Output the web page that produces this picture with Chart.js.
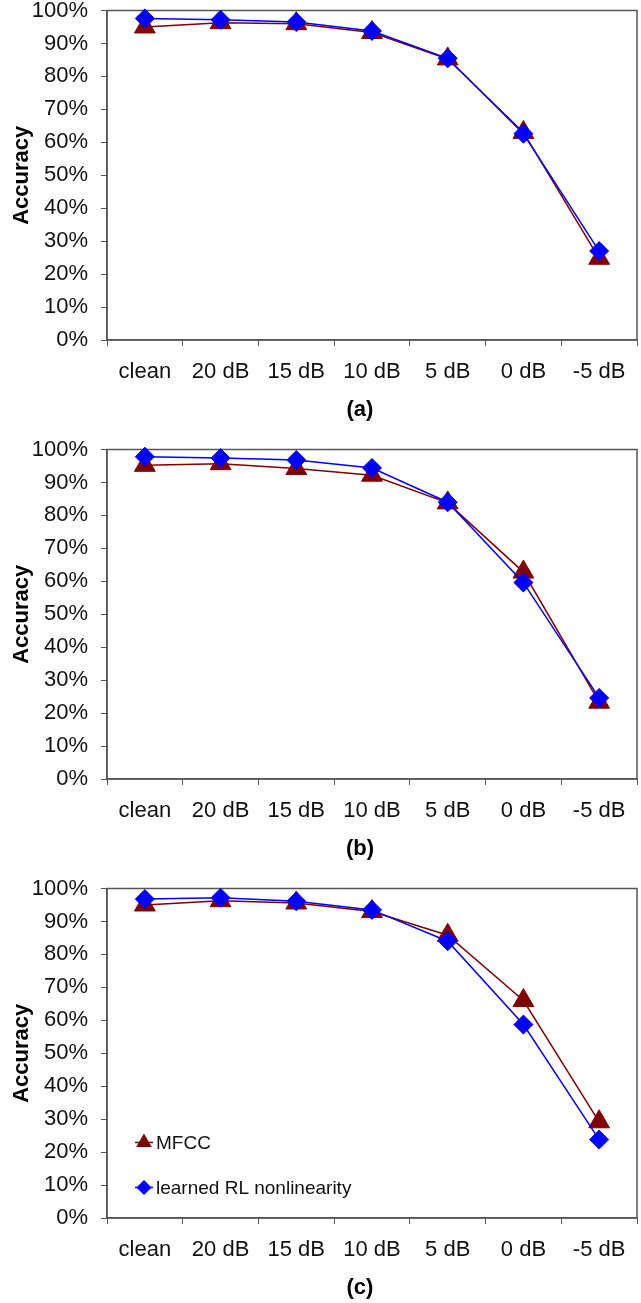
<!DOCTYPE html>
<html>
<head>
<meta charset="utf-8">
<script src="https://cdn.jsdelivr.net/npm/chart.js@4.4.0/dist/chart.umd.min.js"></script>
<style>
body { margin: 0; background: #fff; width: 641px; height: 1303px; overflow: hidden; position: relative; font-family: "Liberation Sans", Arial, sans-serif; }
.panel { position: absolute; left: 0; width: 641px; height: 439px; }
.caption { position: absolute; left: 310px; width: 100px; top: 396px; text-align: center; font-weight: bold; font-size: 22px; line-height: 26px; color: #000; }
</style>
</head>
<body>
<div class="panel" style="top:0px"><canvas id="chart-a" width="641" height="439"></canvas><div class="caption">(a)</div></div>
<div class="panel" style="top:439px"><canvas id="chart-b" width="641" height="439"></canvas><div class="caption">(b)</div></div>
<div class="panel" style="top:878px"><canvas id="chart-c" width="641" height="439"></canvas><div class="caption">(c)</div></div>
<script>
var categories = ["clean", "20 dB", "15 dB", "10 dB", "5 dB", "0 dB", "-5 dB"];
var seriesNames = ["MFCC", "learned RL nonlinearity"];

// accuracy in %
var mfccA = [95.0, 96.3, 96.0, 93.3, 85.3, 63.0, 24.8];
var rlA   = [97.6, 97.2, 96.5, 93.8, 85.5, 62.6, 27.0];
var mfccB = [95.2, 95.7, 94.2, 92.2, 83.8, 62.8, 23.3];
var rlB   = [97.8, 97.4, 96.8, 94.4, 84.0, 59.6, 24.6];
var mfccC = [95.0, 96.3, 95.6, 93.0, 85.8, 66.0, 29.2];
var rlC   = [96.8, 97.2, 96.1, 93.5, 84.0, 58.7, 23.8];

var FONT = "Liberation Sans";
var MFCC_COLOR = "#800000";
var RL_COLOR = "#0000ff";
var AXIS_COLOR = "#555";

var framePlugin = {
	id: "frame",
	beforeDatasetsDraw: function(chart) {
		var a = chart.chartArea, ctx = chart.ctx;
		ctx.save();
		ctx.strokeStyle = AXIS_COLOR;
		ctx.lineWidth = 1.5;
		ctx.strokeRect(a.left, a.top, a.right - a.left, a.bottom - a.top);
		ctx.restore();
	}
};

// legend drawn inside the plot (panel c only)
var innerLegend = {
	id: "innerLegend",
	afterDatasetsDraw: function(chart, args, opts) {
		if (!opts.show) return;
		var a = chart.chartArea, ctx = chart.ctx;
		var rows = [
			{ ds: chart.data.datasets[0], y: a.top + 254, r: 7.5 },
			{ ds: chart.data.datasets[1], y: a.top + 299, r: 6.5 }
		];
		ctx.save();
		rows.forEach(function(row) {
			var cx = a.left + 37;
			ctx.strokeStyle = row.ds.borderColor;
			ctx.lineWidth = 1.5;
			ctx.beginPath();
			ctx.moveTo(cx - 9, row.y);
			ctx.lineTo(cx + 9, row.y);
			ctx.stroke();
			ctx.fillStyle = row.ds.borderColor;
			Chart.helpers.drawPoint(ctx, { pointStyle: row.ds.pointStyle, radius: row.r, rotation: 0, borderWidth: 1 }, cx, row.y);
			ctx.fillStyle = "#111";
			ctx.font = "19px '" + FONT + "'";
			ctx.textBaseline = "middle";
			ctx.textAlign = "left";
			ctx.fillText(row.ds.label, cx + 12, row.y + 1);
		});
		ctx.restore();
	}
};

function createPanel(forid, mfcc, rl, withLegend)
{
	return new Chart(document.getElementById(forid).getContext("2d"), {
		type: "line",
		data: {
			labels: categories,
			datasets: [{
				label: seriesNames[0],
				data: mfcc,
				borderColor: MFCC_COLOR,
				backgroundColor: MFCC_COLOR,
				pointBackgroundColor: MFCC_COLOR,
				pointBorderColor: MFCC_COLOR,
				borderWidth: 1.5,
				pointStyle: "triangle",
				pointRadius: 12,
				pointBorderWidth: 1,
				tension: 0,
				clip: false,
				order: 2
			}, {
				label: seriesNames[1],
				data: rl,
				borderColor: RL_COLOR,
				backgroundColor: RL_COLOR,
				pointBackgroundColor: RL_COLOR,
				pointBorderColor: RL_COLOR,
				borderWidth: 1.5,
				pointStyle: "rectRot",
				pointRadius: 9.5,
				pointBorderWidth: 1,
				tension: 0,
				clip: false,
				order: 1
			}]
		},
		options: {
			responsive: false,
			animation: false,
			devicePixelRatio: 1,
			layout: { autoPadding: false, padding: { top: 10.5, right: 4, left: 0, bottom: 0 } },
			plugins: {
				legend: { display: false },
				tooltip: { enabled: false },
				innerLegend: { show: withLegend }
			},
			scales: {
				x: {
					type: "category",
					offset: true,
					grid: { offset: true, drawOnChartArea: false, drawTicks: true, tickLength: 6, color: AXIS_COLOR },
					border: { display: true, color: AXIS_COLOR, width: 1.5 },
					ticks: { color: "#111", font: { family: FONT, size: 22, lineHeight: 1 }, padding: 15, maxRotation: 0, autoSkip: false },
					afterFit: function(s) { s.height = 99; s.paddingLeft = 0; s.paddingRight = 0; }
				},
				y: {
					min: 0,
					max: 100,
					grid: { drawOnChartArea: false, drawTicks: true, tickLength: 6, color: AXIS_COLOR },
					border: { display: true, color: AXIS_COLOR, width: 1.5 },
					ticks: {
						stepSize: 10,
						color: "#111",
						padding: 13,
						font: { family: FONT, size: 22, lineHeight: 1 },
						callback: function(v) { return v + "%"; }
					},
					title: {
						display: true,
						text: "Accuracy",
						color: "#000",
						font: { family: FONT, size: 22, weight: "bold", lineHeight: 1.2 },
						padding: { top: 9, bottom: 0 }
					},
					afterFit: function(s) { s.width = 107; s.paddingTop = 0; s.paddingBottom = 0; }
				}
			}
		},
		plugins: [framePlugin, innerLegend]
	});
}

createPanel("chart-a", mfccA, rlA, false);
createPanel("chart-b", mfccB, rlB, false);
createPanel("chart-c", mfccC, rlC, true);
</script>
</body>
</html>
